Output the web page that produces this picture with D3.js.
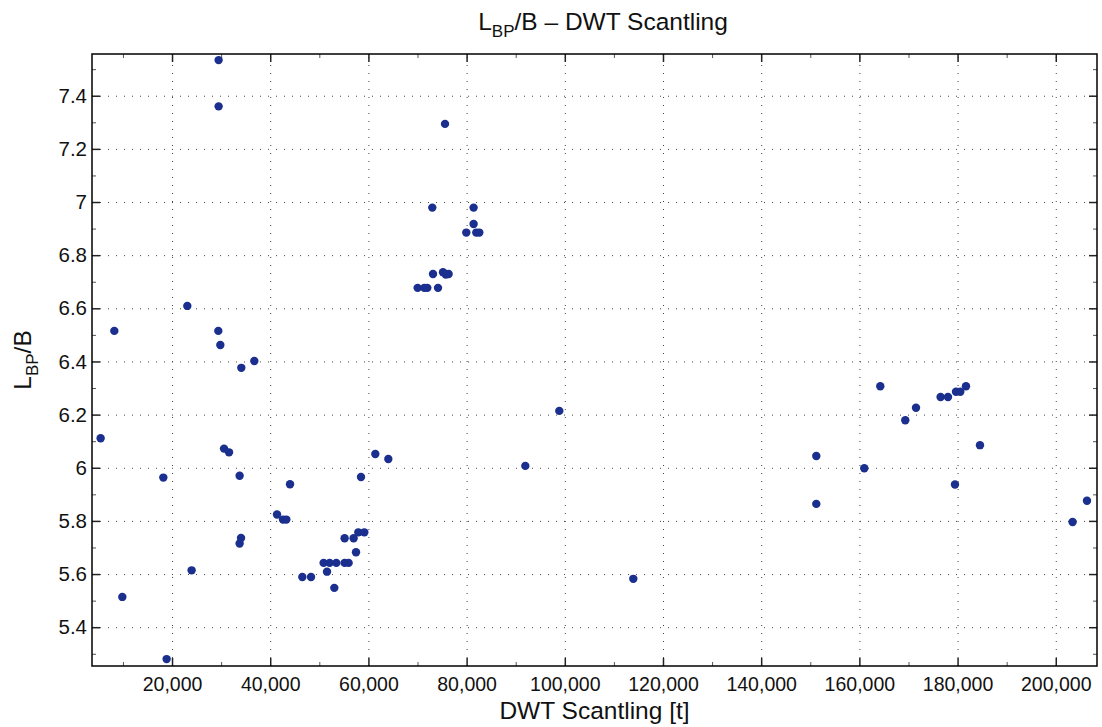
<!DOCTYPE html>
<html>
<head>
<meta charset="utf-8">
<script src="https://cdn.jsdelivr.net/npm/d3@7"></script>
<style>
  body { margin: 0; background: #fff; }
  text { font-family: "Liberation Sans", Arial, Helvetica, sans-serif; fill: #111; }
</style>
</head>
<body>
<svg id="chart" width="1102" height="727"></svg>
<script>
// Deadweight (scantling draught) of each ship, tonnes
const dwt = [
  5458, 8248, 9878, 18228, 18900, 23116, 23992, 29491, 29491, 29430,
  29838, 30591, 31609, 33768, 34053, 33768, 34114, 36762, 41385, 42607,
  43280, 44033, 46539, 48310, 50877, 52099, 53463, 55154, 55968, 51569,
  53055, 55154, 56987, 57475, 57944, 59166, 58493, 61406, 64054, 75602,
  73015, 81427, 81427, 79939, 81976, 82587, 73158, 75195, 76335, 75764,
  70022, 71386, 71997, 74176, 98882, 91958, 113955, 151226, 151226, 161002,
  164261, 169353, 171532, 176543, 178050, 179679, 180555, 181716, 179474, 184565,
  203427, 206360
];
// Length between perpendiculars over breadth, same ships
const lbpB = [
  6.111, 6.515, 5.514, 5.963, 5.280, 6.609, 5.614, 7.534, 7.360, 6.515,
  6.462, 6.072, 6.058, 5.970, 5.736, 5.715, 6.376, 6.402, 5.824, 5.805,
  5.805, 5.938, 5.589, 5.589, 5.642, 5.642, 5.642, 5.642, 5.642, 5.609,
  5.548, 5.735, 5.735, 5.682, 5.757, 5.757, 5.965, 6.052, 6.033, 7.294,
  6.979, 6.979, 6.917, 6.885, 6.885, 6.885, 6.729, 6.736, 6.729, 6.727,
  6.677, 6.677, 6.677, 6.677, 6.214, 6.007, 5.582, 6.044, 5.864, 5.998,
  6.307, 6.179, 6.226, 6.266, 6.266, 6.286, 6.286, 6.307, 5.937, 6.085,
  5.796, 5.876
];

const xTicks = [20000, 40000, 60000, 80000, 100000, 120000, 140000, 160000, 180000, 200000];
const xMinorTicks = [10000, 30000, 50000, 70000, 90000, 110000, 130000, 150000, 170000, 190000];
const yTicks = [5.4, 5.6, 5.8, 6, 6.2, 6.4, 6.6, 6.8, 7, 7.2, 7.4];
const yMinorTicks = [5.3, 5.5, 5.7, 5.9, 6.1, 6.3, 6.5, 6.7, 6.9, 7.1, 7.3, 7.5];
const xDomain = [3700, 208400];
const yDomain = [5.254, 7.557];

const W = 1102, H = 727;
const m = { left: 92, right: 5, top: 54, bottom: 61 };
const pw = W - m.left - m.right, ph = H - m.top - m.bottom;

const svg = d3.select("#chart");
const g = svg.append("g").attr("transform", `translate(${m.left},${m.top})`);

const x = d3.scaleLinear().domain(xDomain).range([0, pw]);
const y = d3.scaleLinear().domain(yDomain).range([ph, 0]);

// dotted grid at major ticks
const gridStyle = sel => {
  sel.select(".domain").remove();
  sel.selectAll("text").remove();
  sel.selectAll("line").attr("stroke", "#444").attr("stroke-width", 1).attr("stroke-dasharray", "1,7");
};
g.append("g").attr("transform", `translate(0,${ph})`)
  .call(d3.axisBottom(x).tickValues(xTicks).tickSize(-ph).tickFormat(""))
  .call(gridStyle);
g.append("g")
  .call(d3.axisLeft(y).tickValues(yTicks).tickSize(-pw).tickFormat(""))
  .call(gridStyle);

// inward tick marks on all four sides
const tickStyle = (sel, col, w) => {
  sel.select(".domain").remove();
  sel.selectAll("line").attr("stroke", col).attr("stroke-width", w);
};
const fmtX = d3.format(",");
const fmtY = d3.format("~g");

const bottomMinor = g.append("g").attr("transform", `translate(0,${ph})`)
  .call(d3.axisBottom(x).tickValues(xMinorTicks).tickSize(-4).tickFormat(""));
tickStyle(bottomMinor, "#555", 1);
const topMinor = g.append("g")
  .call(d3.axisTop(x).tickValues(xMinorTicks).tickSize(-4).tickFormat(""));
tickStyle(topMinor, "#555", 1);
const leftMinor = g.append("g")
  .call(d3.axisLeft(y).tickValues(yMinorTicks).tickSize(-4).tickFormat(""));
tickStyle(leftMinor, "#555", 1);
const rightMinor = g.append("g").attr("transform", `translate(${pw},0)`)
  .call(d3.axisRight(y).tickValues(yMinorTicks).tickSize(-4).tickFormat(""));
tickStyle(rightMinor, "#555", 1);

const bottomAxis = g.append("g").attr("transform", `translate(0,${ph})`)
  .call(d3.axisBottom(x).tickValues(xTicks).tickSize(-8).tickPadding(11).tickFormat(fmtX));
tickStyle(bottomAxis, "#222", 1.5);
bottomAxis.selectAll("text").attr("font-size", 19.5).attr("fill", "#111");

const topAxis = g.append("g")
  .call(d3.axisTop(x).tickValues(xTicks).tickSize(-8).tickFormat(""));
tickStyle(topAxis, "#222", 1.5);

const leftAxis = g.append("g")
  .call(d3.axisLeft(y).tickValues(yTicks).tickSize(-8).tickPadding(5).tickFormat(fmtY));
tickStyle(leftAxis, "#222", 1.5);
leftAxis.selectAll("text").attr("font-size", 20.5).attr("fill", "#111");

const rightAxis = g.append("g").attr("transform", `translate(${pw},0)`)
  .call(d3.axisRight(y).tickValues(yTicks).tickSize(-8).tickFormat(""));
tickStyle(rightAxis, "#222", 1.5);

// plot frame
g.append("rect").attr("width", pw).attr("height", ph)
  .attr("fill", "none").attr("stroke", "#000").attr("stroke-width", 1.5);

// ships
g.append("g").selectAll("circle")
  .data(dwt.map((d, i) => [d, lbpB[i]]))
  .join("circle")
  .attr("cx", d => x(d[0]))
  .attr("cy", d => y(d[1]))
  .attr("r", 4.2)
  .attr("fill", "#1a2f8e");

// title
const title = svg.append("text")
  .attr("x", 603).attr("y", 30)
  .attr("text-anchor", "middle").attr("font-size", 24.5);
title.append("tspan").text("L");
title.append("tspan").attr("dy", 7).attr("font-size", 17).text("BP");
title.append("tspan").attr("dy", -7).text("/B \u2013 DWT Scantling");

// x label
svg.append("text")
  .attr("x", m.left + pw / 2).attr("y", 719)
  .attr("text-anchor", "middle").attr("font-size", 24.5)
  .text("DWT Scantling [t]");

// y label
const yl = svg.append("text")
  .attr("transform", `translate(31,${m.top + ph / 2}) rotate(-90)`)
  .attr("text-anchor", "middle").attr("font-size", 24.5);
yl.append("tspan").text("L");
yl.append("tspan").attr("dy", 7).attr("font-size", 17).text("BP");
yl.append("tspan").attr("dy", -7).text("/B");
</script>
</body>
</html>
